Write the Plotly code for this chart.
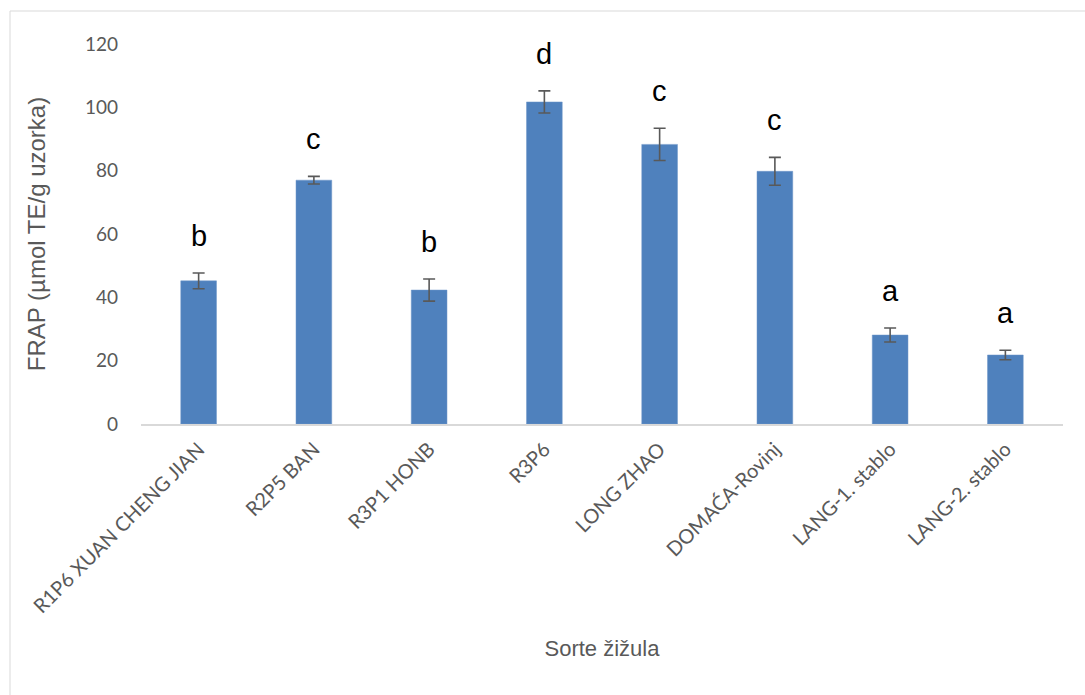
import plotly.graph_objects as go

categories = ["R1P6 XUAN CHENG JIAN", "R2P5 BAN", "R3P1 HONB", "R3P6",
              "LONG ZHAO", "DOMAĆA-Rovinj", "LANG-1. stablo", "LANG-2. stablo"]
frap = [45.2, 77.0, 42.3, 101.7, 88.3, 79.8, 28.1, 21.8]
err = [2.5, 1.2, 3.5, 3.5, 5.1, 4.4, 2.2, 1.5]
letters = ["b", "c", "b", "d", "c", "c", "a", "a"]
y_ticks = [0, 20, 40, 60, 80, 100, 120]

fig = go.Figure()
fig.add_trace(go.Bar(
    x=categories, y=frap,
    marker=dict(color="#4f81bd", line=dict(color="#6f97c9", width=0.5)),
    error_y=dict(type="data", array=err, visible=True, color="#595959",
                 thickness=1.6, width=6),
    showlegend=False,
))

for c, v, e, l in zip(categories, frap, err, letters):
    fig.add_annotation(x=c, y=v + e, text=l, showarrow=False, yanchor="middle",
                       yshift=37, font=dict(family="Liberation Sans", size=29, color="#000000"))

fig.add_shape(type="rect", xref="paper", yref="paper",
              x0=(10 - 141) / 922, x1=(1100 - 141) / 922,
              y0=(424 - 710) / 380, y1=(424 - 11) / 380,
              line=dict(color="#d9d9d9", width=1), fillcolor="rgba(0,0,0,0)", layer="below")

fig.update_layout(
    width=1085, height=695,
    margin=dict(l=141, r=22, t=44, b=271),
    paper_bgcolor="white", plot_bgcolor="white",
    bargap=0.69,
    font=dict(family="Lato", color="#595959"),
    xaxis=dict(
        tickangle=-45, tickfont=dict(family="Lato", size=20, color="#595959"),
        showline=True, linecolor="#d9d9d9", linewidth=1.5, showgrid=False,
        ticks="", ticklabelstandoff=4,
        title=dict(text="Sorte žižula", font=dict(family="Liberation Sans", size=22, color="#595959"),
                   standoff=24),
    ),
    yaxis=dict(
        range=[0, 120], tickvals=y_ticks, showgrid=False, zeroline=False,
        showline=False, ticks="", ticklabelstandoff=22,
        tickfont=dict(family="Lato", size=19, color="#595959"),
        title=dict(text="FRAP (µmol TE/g uzorka)",
                   font=dict(family="Liberation Sans", size=24, color="#595959"), standoff=32),
    ),
)

fig.write_html("out.html")
